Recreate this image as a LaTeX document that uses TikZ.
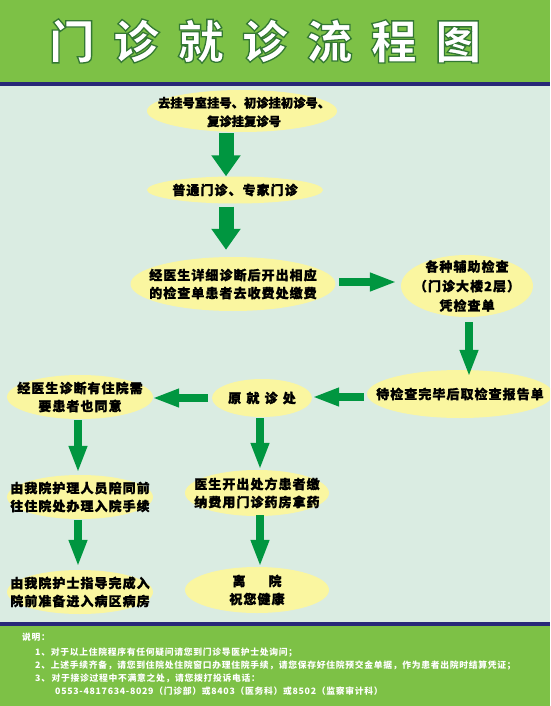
\documentclass[tikz,border=0pt]{standalone}
\usepackage{fontspec}
\usetikzlibrary{arrows.meta,shapes.geometric,calc}
\newfontfamily\cjk{Noto Sans CJK SC}[LetterSpace=8, BoldFeatures={FakeBold=1.2}]
\newfontfamily\cjkw{Noto Sans CJK SC}[LetterSpace=40, BoldFeatures={FakeBold=1.2}]
\newfontfamily\cjkn{Noto Sans CJK SC}[BoldFeatures={FakeBold=1.2}]
\newfontfamily\cjkt{Noto Sans CJK SC}[LetterSpace=40]
\newfontfamily\cjkf{Noto Sans CJK SC}[LetterSpace=8]
\definecolor{hdrgreen}{RGB}{125,193,70}
\definecolor{navy}{RGB}{40,40,120}
\definecolor{bodybg}{RGB}{218,236,226}
\definecolor{ellfill}{RGB}{250,246,160}
\definecolor{arrgreen}{RGB}{0,150,64}
\tikzset{
  ell/.style={ellipse, fill=ellfill, inner sep=0pt},
  etxt/.style={inner sep=0pt, align=center,
    font=\fontsize{13}{18}\selectfont\cjk\bfseries},
  bigarrow/.style={draw=arrgreen, line width=15pt, -{Triangle[width=28pt,length=21pt]}},
  smallarrow/.style={draw=arrgreen, line width=8pt, -{Triangle[width=17pt,length=27pt]}},
  foot/.style={anchor=west, inner sep=0pt, text=white, font=\fontsize{8.8}{10}\selectfont\cjkf\bfseries}
}
\begin{document}
\begin{tikzpicture}[x=1pt,y=-1pt]
\useasboundingbox (0,0) rectangle (550,706);
\clip (0,0) rectangle (550,706);
\fill[bodybg] (0,0) rectangle (550,706);
\fill[hdrgreen] (0,0) rectangle (550,82);
\fill[navy] (0,82) rectangle (550,86);
\fill[navy] (0,622) rectangle (550,626);
\fill[hdrgreen] (0,626) rectangle (550,706);

\node[text=white, inner sep=0pt] (title) at (265,41)
  {\special{pdf:literal direct 2 Tr 1.3 w 0.2 0.47 0.2 RG}\fontsize{46}{46}\selectfont\cjkt\bfseries 门诊就诊流程图\special{pdf:literal direct 0 Tr}};

\node[ell, minimum width=190pt, minimum height=42pt] (e1) at (242,111) {};
\node[ell, minimum width=176pt, minimum height=27pt] (e2) at (235,190) {};
\node[ell, minimum width=205pt, minimum height=54pt] (e3) at (233,284) {};
\node[ell, minimum width=132pt, minimum height=62pt] (e4) at (467,286) {};
\node[ell, minimum width=186pt, minimum height=48pt] (e5) at (460,394) {};
\node[ell, minimum width=100pt, minimum height=38pt] (e6) at (262,398) {};
\node[ell, minimum width=146pt, minimum height=44pt] (e7) at (80,397) {};
\node[ell, minimum width=146pt, minimum height=44pt] (e8) at (80,497) {};
\node[ell, minimum width=146pt, minimum height=44pt] (e9) at (80,592) {};
\node[ell, minimum width=144pt, minimum height=46pt] (e10) at (257,493) {};
\node[ell, minimum width=144pt, minimum height=46pt] (e11) at (257,590) {};

\node[etxt, font=\fontsize{12.3}{18.5}\selectfont\cjkn\bfseries] (t1) at (244,112)
  {去挂号室挂号、初诊挂初诊号、\\复诊挂复诊号};
\node[etxt] (t2) at (e2) {普通门诊、专家门诊};
\node[etxt] (t3) at (e3) {经医生详细诊断后开出相应\\的检查单患者去收费处缴费};
\node[etxt, font=\fontsize{13}{19.5}\selectfont\cjk\bfseries] (t4) at (e4)
  {各种辅助检查\\（门诊大楼2层）\\凭检查单};
\node[etxt] (t5) at (e5) {待检查完毕后取检查报告单};
\node[etxt, font=\fontsize{13}{18}\selectfont\cjkw\bfseries] (t6) at (e6) {原就诊处};
\node[etxt] (t7) at (e7) {经医生诊断有住院需\\要患者也同意};
\node[etxt] (t8) at (e8) {由我院护理人员陪同前\\往住院处办理入院手续};
\node[etxt] (t9) at (e9) {由我院护士指导完成入\\院前准备进入病区病房};
\node[etxt] (t10) at (e10) {医生开出处方患者缴\\纳费用门诊药房拿药};
\node[etxt] (t11) at (e11) {离\hspace{23pt}院\\祝您健康};

\draw[bigarrow, shorten <=1pt, shorten >=0pt] (e1.south -| 226,0) -- (e2.north -| 226,0);
\draw[bigarrow, shorten <=3pt, shorten >=7pt] (e2.south -| 226,0) -- (e3.north -| 226,0);
\draw[smallarrow, shorten <=3.5pt, shorten >=4pt] (e3.east |- 0,282) -- (e4.west |- 0,282);
\draw[smallarrow, shorten <=5pt, shorten >=-7pt] (e4.south -| 469,0) -- (e5.north -| 469,0);
\draw[smallarrow, shorten <=3pt, shorten >=0pt] (e5.west |- 0,397) -- (e6.east |- 0,397);
\draw[smallarrow, shorten <=4pt, shorten >=-1pt] (e6.west |- 0,398) -- (e7.east |- 0,398);
\draw[smallarrow, shorten <=1pt, shorten >=2pt] (e7.south -| 78,0) -- (e8.north -| 78,0);
\draw[smallarrow, shorten <=1pt, shorten >=3pt] (e8.south -| 78,0) -- (e9.north -| 78,0);
\draw[smallarrow, shorten <=1pt, shorten >=0pt] (e6.south -| 260,0) -- (e10.north -| 260,0);
\draw[smallarrow, shorten <=-1pt, shorten >=0pt] (e10.south -| 260,0) -- (e11.north -| 260,0);

\node[foot] (n0) at (22,637) {说明：};
\node[foot] (n1) at (35,652) {1、对于以上住院程序有任何疑问请您到门诊导医护士处询问；};
\node[foot] (n2) at (35,665) {2、上述手续齐备，请您到住院处住院窗口办理住院手续，请您保存好住院预交金单据，作为患者出院时结算凭证；};
\node[foot] (n3) at (35,678) {3、\,对于接诊过程中不满意之处，请您拨打投诉电话：};
\node[foot] (n4) at (55,691) {0553-4817634-8029（门诊部）或8403（医务科）或8502（监察审计科）};
\end{tikzpicture}
\end{document}
